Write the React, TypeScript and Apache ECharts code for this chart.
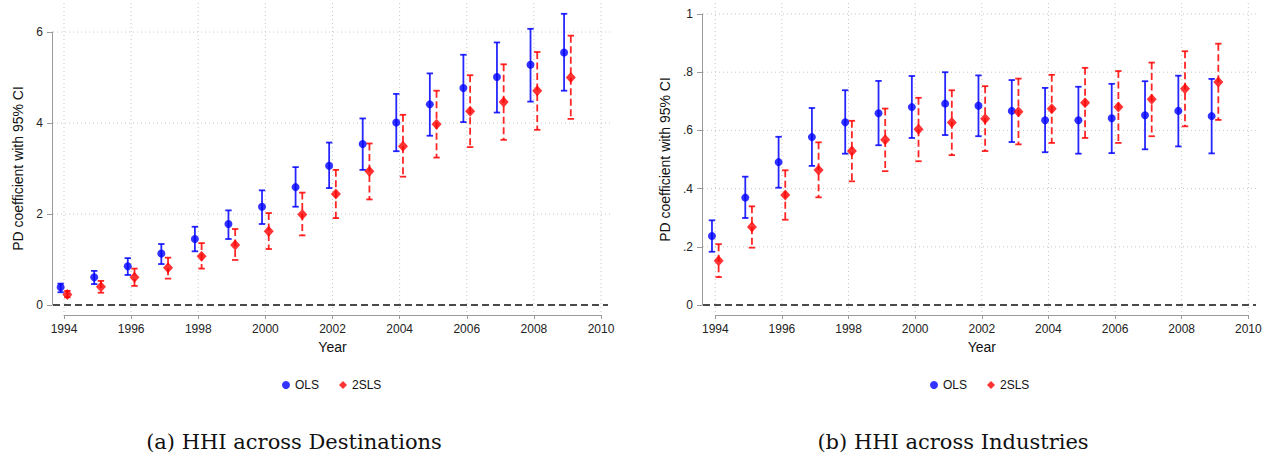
import React, { useEffect, useRef } from "react";
import * as echarts from "echarts";

// ---------- data ----------
const years = [1994, 1995, 1996, 1997, 1998, 1999, 2000, 2001, 2002, 2003, 2004, 2005, 2006, 2007, 2008, 2009];
const xTicks = [1994, 1996, 1998, 2000, 2002, 2004, 2006, 2008, 2010];

// (a) HHI across Destinations
const destYTicks = [0, 2, 4, 6];
const destOlsCoef = [0.39, 0.61, 0.85, 1.13, 1.45, 1.78, 2.16, 2.59, 3.06, 3.54, 4.01, 4.41, 4.77, 5.01, 5.28, 5.55];
const destOlsLo = [0.28, 0.46, 0.66, 0.9, 1.18, 1.45, 1.78, 2.16, 2.57, 2.97, 3.38, 3.72, 4.02, 4.23, 4.47, 4.71];
const destOlsHi = [0.47, 0.75, 1.03, 1.34, 1.72, 2.08, 2.52, 3.03, 3.57, 4.1, 4.64, 5.09, 5.5, 5.77, 6.07, 6.4];
const dest2slsCoef = [0.23, 0.4, 0.61, 0.82, 1.07, 1.32, 1.62, 1.99, 2.44, 2.94, 3.49, 3.97, 4.26, 4.46, 4.71, 5.0];
const dest2slsLo = [0.17, 0.27, 0.42, 0.58, 0.8, 0.99, 1.23, 1.53, 1.91, 2.32, 2.82, 3.24, 3.47, 3.63, 3.85, 4.09];
const dest2slsHi = [0.31, 0.53, 0.8, 1.04, 1.36, 1.67, 2.02, 2.47, 2.97, 3.55, 4.18, 4.71, 5.05, 5.29, 5.56, 5.92];

// (b) HHI across Industries
const indYTicks = [0, 0.2, 0.4, 0.6, 0.8, 1];
const indOlsCoef = [0.237, 0.369, 0.491, 0.577, 0.628, 0.659, 0.68, 0.692, 0.685, 0.667, 0.635, 0.635, 0.642, 0.652, 0.667, 0.649];
const indOlsLo = [0.183, 0.299, 0.403, 0.478, 0.52, 0.549, 0.574, 0.584, 0.58, 0.56, 0.525, 0.52, 0.522, 0.535, 0.545, 0.521];
const indOlsHi = [0.291, 0.441, 0.578, 0.677, 0.738, 0.77, 0.787, 0.8, 0.789, 0.773, 0.746, 0.75, 0.76, 0.769, 0.788, 0.777];
const ind2slsCoef = [0.152, 0.268, 0.378, 0.464, 0.529, 0.568, 0.604, 0.627, 0.64, 0.664, 0.674, 0.695, 0.68, 0.707, 0.743, 0.766];
const ind2slsLo = [0.096, 0.197, 0.293, 0.37, 0.425, 0.46, 0.494, 0.515, 0.529, 0.552, 0.557, 0.574, 0.557, 0.58, 0.614, 0.636];
const ind2slsHi = [0.209, 0.339, 0.463, 0.559, 0.633, 0.675, 0.712, 0.738, 0.752, 0.778, 0.791, 0.815, 0.804, 0.833, 0.872, 0.898];

const seriesNames = ["OLS", "2SLS"];
const captions = ["(a) HHI across Destinations", "(b) HHI across Industries"];
const xTitle = "Year";
const yTitle = "PD coefficient with 95% CI";

// ---------- style ----------
const SANS = "'Liberation Sans', Arial, sans-serif";
const SERIF = "'DejaVu Serif', serif";
const BLUE = "#0000ff";
const RED = "#ff0000";
const AXIS = "#9a9a9a";
const OLS_SHIFT = -0.1;
const TSLS_SHIFT = 0.1;

type Panel = {
  x0: number; x1: number;
  yZero: number; yTop: number;
  plotL: number; plotR: number; plotT: number; plotB: number;
  yAxisX: number; xAxisY: number;
  yNameGap: number;
  legendLeft: number;
  yTicks: number[];
  fmt: (v: number) => string;
  ols: [number[], number[], number[]];
  tsls: [number[], number[], number[]];
};

const panels: Panel[] = [
  {
    x0: 64, x1: 601, yZero: 305, yTop: 32,
    plotL: 53, plotR: 610, plotT: 3, plotB: 315,
    yAxisX: 52, xAxisY: 315, yNameGap: 27, legendLeft: 277,
    yTicks: destYTicks,
    fmt: (v) => String(v),
    ols: [destOlsCoef, destOlsLo, destOlsHi],
    tsls: [dest2slsCoef, dest2slsLo, dest2slsHi],
  },
  {
    x0: 715.3, x1: 1248.3, yZero: 305, yTop: 14,
    plotL: 703, plotR: 1258, plotT: 3, plotB: 315,
    yAxisX: 702, xAxisY: 315, yNameGap: 30, legendLeft: 925,
    yTicks: indYTicks,
    fmt: (v) => (v === 0 ? "0" : v === 1 ? "1" : String(v).replace(/^0\./, ".")),
    ols: [indOlsCoef, indOlsLo, indOlsHi],
    tsls: [ind2slsCoef, ind2slsLo, ind2slsHi],
  },
];

function errorBar(color: string, dashed: boolean) {
  return (params: any, api: any) => {
    const x = api.value(0);
    const pHi = api.coord([x, api.value(2)]);
    const pLo = api.coord([x, api.value(1)]);
    const cap = 3.2;
    const solid = { stroke: color, lineWidth: 1.8, opacity: 0.85 };
    return {
      type: "group",
      children: [
        {
          type: "line",
          shape: { x1: pHi[0], y1: pHi[1], x2: pLo[0], y2: pLo[1] },
          style: { ...solid, lineDash: dashed ? [7, 3.5] : null },
        },
        { type: "line", shape: { x1: pHi[0] - cap, y1: pHi[1], x2: pHi[0] + cap, y2: pHi[1] }, style: solid },
        { type: "line", shape: { x1: pLo[0] - cap, y1: pLo[1], x2: pLo[0] + cap, y2: pLo[1] }, style: solid },
      ],
    };
  };
}

function buildOption() {
  const grid: any[] = [];
  const xAxis: any[] = [];
  const yAxis: any[] = [];
  const series: any[] = [];
  const legend: any[] = [];
  const graphic: any[] = [];

  panels.forEach((p, pi) => {
    const first = xTicks[0];
    const last = xTicks[xTicks.length - 1];
    const pxYear = (p.x1 - p.x0) / (last - first);
    const topTick = p.yTicks[p.yTicks.length - 1];
    const pxUnit = (p.yZero - p.yTop) / topTick;

    const gPlot = grid.length;
    grid.push({ left: p.plotL, top: p.plotT, width: p.plotR - p.plotL, height: p.plotB - p.plotT });
    xAxis.push({
      gridIndex: gPlot, type: "value", show: false,
      min: first - (p.x0 - p.plotL) / pxYear,
      max: last + (p.plotR - p.x1) / pxYear,
    });
    yAxis.push({
      gridIndex: gPlot, type: "value", show: false,
      min: -(p.plotB - p.yZero) / pxUnit,
      max: (p.yZero - p.plotT) / pxUnit,
    });
    const ax = xAxis.length - 1;
    const ay = yAxis.length - 1;

    const gX = grid.length;
    grid.push({ left: p.x0, top: p.xAxisY - 1, width: p.x1 - p.x0, height: 1 });
    xAxis.push({
      gridIndex: gX, type: "value", position: "bottom", min: first, max: last, interval: 2,
      axisLine: { show: true, lineStyle: { color: AXIS, width: 1 } },
      axisTick: { show: true, length: 4, lineStyle: { color: AXIS } },
      axisLabel: { show: true, fontSize: 12, color: "#222", margin: 8, fontFamily: SANS, formatter: (v: number) => String(v) },
      splitLine: { show: false },
      name: xTitle, nameLocation: "middle", nameGap: 25,
      nameTextStyle: { fontSize: 14, color: "#111", fontFamily: SANS },
    });
    yAxis.push({ gridIndex: gX, type: "value", show: false, min: 0, max: 1 });

    const gY = grid.length;
    grid.push({ left: p.yAxisX, top: p.yTop, width: 1, height: p.yZero - p.yTop });
    xAxis.push({ gridIndex: gY, type: "value", show: false, min: 0, max: 1 });
    yAxis.push({
      gridIndex: gY, type: "value", position: "left", min: 0, max: topTick,
      interval: p.yTicks[1] - p.yTicks[0],
      axisLine: { show: true, lineStyle: { color: AXIS, width: 1 } },
      axisTick: { show: true, length: 5, lineStyle: { color: AXIS } },
      axisLabel: { show: true, fontSize: 12, color: "#222", margin: 9, fontFamily: SANS, formatter: p.fmt },
      splitLine: { show: false },
      name: yTitle, nameLocation: "middle", nameGap: p.yNameGap, nameRotate: 90,
      nameTextStyle: { fontSize: 14, color: "#111", fontFamily: SANS },
    });

    series.push({
      type: "custom", xAxisIndex: ax, yAxisIndex: ay, clip: false, silent: true, z: 1,
      data: xTicks.map((v) => [v, 0]),
      renderItem: (params: any, api: any) => {
        const cs = params.coordSys;
        const pt = api.coord([api.value(0), 0]);
        return {
          type: "line",
          shape: { x1: pt[0], y1: cs.y, x2: pt[0], y2: cs.y + cs.height },
          style: { stroke: "#c8c8c8", lineWidth: 1, lineDash: [1, 3] },
        };
      },
    });
    series.push({
      type: "custom", xAxisIndex: ax, yAxisIndex: ay, clip: false, silent: true, z: 1,
      data: p.yTicks.filter((v) => v !== 0).map((v) => [first, v]),
      renderItem: (params: any, api: any) => {
        const cs = params.coordSys;
        const pt = api.coord([api.value(0), api.value(1)]);
        return {
          type: "line",
          shape: { x1: cs.x, y1: pt[1], x2: cs.x + cs.width, y2: pt[1] },
          style: { stroke: "#c8c8c8", lineWidth: 1, lineDash: [1, 3] },
        };
      },
    });
    series.push({
      type: "custom", xAxisIndex: ax, yAxisIndex: ay, clip: false, silent: true, z: 2,
      data: [[first, 0]],
      renderItem: (params: any, api: any) => {
        const cs = params.coordSys;
        const pt = api.coord([api.value(0), api.value(1)]);
        return {
          type: "line",
          shape: { x1: cs.x, y1: pt[1], x2: cs.x + cs.width - 2, y2: pt[1] },
          style: { stroke: "#111", lineWidth: 1.6, lineDash: [7, 4] },
        };
      },
    });

    series.push({
      type: "custom", xAxisIndex: ax, yAxisIndex: ay, clip: false, z: 3,
      data: years.map((y, i) => [y + OLS_SHIFT, p.ols[1][i], p.ols[2][i]]),
      encode: { x: 0, y: [1, 2] },
      renderItem: errorBar(BLUE, false),
    });
    series.push({
      type: "custom", xAxisIndex: ax, yAxisIndex: ay, clip: false, z: 3,
      data: years.map((y, i) => [y + TSLS_SHIFT, p.tsls[1][i], p.tsls[2][i]]),
      encode: { x: 0, y: [1, 2] },
      renderItem: errorBar(RED, true),
    });

    series.push({
      name: seriesNames[0], type: "scatter", xAxisIndex: ax, yAxisIndex: ay, clip: false, z: 4,
      symbol: "circle", symbolSize: 8, itemStyle: { color: BLUE },
      data: years.map((y, i) => [y + OLS_SHIFT, p.ols[0][i]]),
    });
    series.push({
      name: seriesNames[1], type: "scatter", xAxisIndex: ax, yAxisIndex: ay, clip: false, z: 4,
      symbol: "diamond", symbolSize: [10, 11], itemStyle: { color: RED },
      data: years.map((y, i) => [y + TSLS_SHIFT, p.tsls[0][i]]),
    });

    legend.push({
      left: p.legendLeft, top: 374, data: seriesNames,
      itemWidth: 8, itemHeight: 8, itemGap: 20,
      textStyle: { fontSize: 12, color: "#111", fontFamily: SANS },
      selectedMode: false,
    });

    graphic.push({
      type: "text",
      x: pi === 0 ? 294 : 953,
      y: 442,
      style: {
        text: captions[pi],
        fontSize: 21,
        fontFamily: SERIF,
        fill: "#111",
        textAlign: "center",
        textVerticalAlign: "middle",
      },
    });
  });

  return {
    animation: false,
    backgroundColor: "#ffffff",
    textStyle: { fontFamily: SANS },
    grid,
    xAxis,
    yAxis,
    series,
    legend,
    graphic,
  };
}

export default function App() {
  const ref = useRef<HTMLDivElement>(null);
  useEffect(() => {
    if (!ref.current) return;
    const chart = echarts.init(ref.current, undefined, { renderer: "svg" });
    chart.setOption(buildOption() as any);
    return () => chart.dispose();
  }, []);
  return (
    <div
      ref={ref}
      style={{ position: "fixed", left: 0, top: 0, width: 1274, height: 465, background: "#fff" }}
    />
  );
}
